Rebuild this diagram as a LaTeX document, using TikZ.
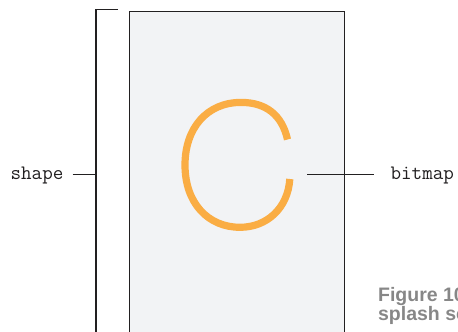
\documentclass[tikz,border=0pt]{standalone}
\usepackage{fontspec}
\newfontfamily\capfont{Liberation Sans}
\definecolor{cpanel}{RGB}{242,243,245}
\definecolor{corange}{RGB}{250,173,68}
\definecolor{cline}{RGB}{34,32,33}
\definecolor{ccap}{RGB}{135,135,135}
\tikzset{splash/.style={x=1pt,y=-1pt,line width=1.2pt,cline},
  lbl/.style={font=\ttfamily\fontsize{20.5}{22}\selectfont,text=cline,inner ysep=0pt},
  panelbox/.style={draw=cline,fill=cpanel,line width=1pt,inner sep=0pt}}

\begin{document}
\begin{tikzpicture}[splash]
    \useasboundingbox (0,0) rectangle (458,332);
    \clip (0,0) rectangle (458,332);
    \node[panelbox,minimum width=215pt,minimum height=340pt,anchor=north west] (panel) at (129,10.5) {};
    % the letter on the screen
    \draw[corange,line width=7.2pt] (287.5,139.5) .. controls (282,115) and (266,102.4) .. (241,102.4)
      .. controls (207,102.4) and (185,128) .. (185,165)
      .. controls (185,203) and (208,227.3) .. (240,227.3)
      .. controls (267,227.3) and (288,208) .. (289.8,179);
    % bracket for the shape
    \coordinate (brtop) at (118,9.5);
    \coordinate (brcorner) at (96,9.5);
    \coordinate (brbottom) at (96,345);
    \coordinate (brmid) at (96,174.3);
    \draw (brtop) -- (brcorner) -- (brbottom);
    \node[lbl,inner xsep=8.5pt,anchor=base east] (shape) at (72.5,179.3) {shape};
    \draw (shape.east |- brmid) -- (brmid);
    % pointer for the bitmap
    \coordinate (bmtick) at (307,174.3);
    \node[lbl,inner xsep=16pt,anchor=base west] (bitmap) at (374,179.3) {bitmap};
    \draw (bmtick) -- (bmtick -| bitmap.west);
    \node[font=\capfont\bfseries\fontsize{19.5}{19.5}\selectfont,text=ccap,align=left,
      inner sep=0pt,anchor=base west] (caption) at (377.5,320.5) {Figure 10\\splash sc};
  \end{tikzpicture}
\end{document}
